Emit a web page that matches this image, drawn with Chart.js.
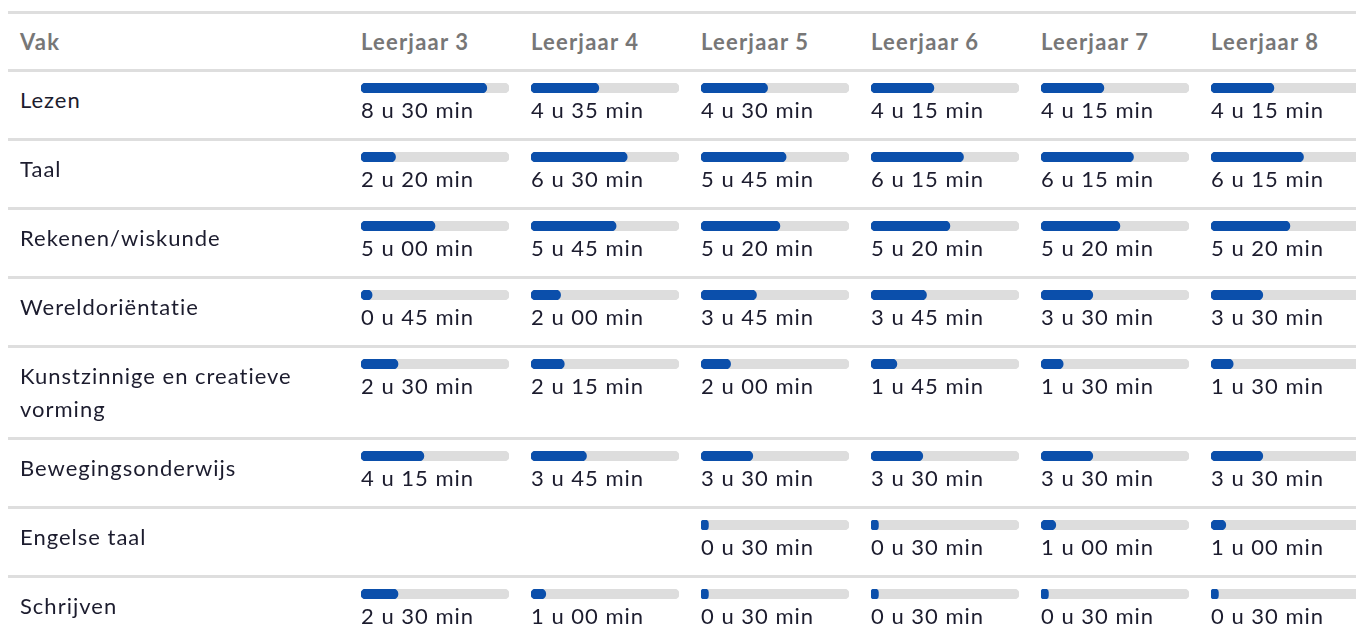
<!DOCTYPE html>
<html lang="nl">
<head>
<meta charset="utf-8">
<script src="https://cdn.jsdelivr.net/npm/chart.js@4/dist/chart.umd.min.js"></script>
<style>
    html, body { margin: 0; padding: 0; background: #fff; overflow: hidden; width: 1356px; height: 628px; }
    body { font-family: "Lato", sans-serif; color: #1c1c2e; }
    .tbl { position: absolute; left: 8px; top: 11px; width: 1400px; }
    .row { display: flex; border-top: 3px solid #dedede; }
    .head { height: 55px; line-height: 55px; font-weight: 700; color: #777; font-size: 22px; letter-spacing: 1.2px; }
    .lbl { width: 300px; padding: 11px 41px 12px 12px; font-size: 22px; line-height: 33px; letter-spacing: 1px; }
    .head .lbl { padding-top: 0; padding-bottom: 0; line-height: 55px; letter-spacing: 1.2px; }
    .cell { width: 170px; padding-top: 11px; padding-bottom: 12px; }
    .cell canvas { display: block; }
    .val { font-size: 22px; line-height: 33px; white-space: nowrap; letter-spacing: 1px; }
</style>
</head>
<body>
<div class="tbl" id="tbl"></div>
<script>
var leerjaren = ['Leerjaar 3', 'Leerjaar 4', 'Leerjaar 5', 'Leerjaar 6', 'Leerjaar 7', 'Leerjaar 8'];
var vakken = ['Lezen', 'Taal', 'Rekenen/wiskunde', 'Wereldoriëntatie', 'Kunstzinnige en creatieve vorming',
    'Bewegingsonderwijs', 'Engelse taal', 'Schrijven'];

// minuten per week, per leerjaar 3..8
var lezen = [510, 275, 270, 255, 255, 255];
var taal = [140, 390, 345, 375, 375, 375];
var rekenen = [300, 345, 320, 320, 320, 320];
var wereldorientatie = [45, 120, 225, 225, 210, 210];
var kunstzinnig = [150, 135, 120, 105, 90, 90];
var bewegingsonderwijs = [255, 225, 210, 210, 210, 210];
var engels = [null, null, 30, 30, 60, 60];
var schrijven = [150, 60, 30, 30, 30, 30];

var minuten = [lezen, taal, rekenen, wereldorientatie, kunstzinnig, bewegingsonderwijs, engels, schrijven];
var schaalMax = 600;

function formatTijd(m) {
    var u = Math.floor(m / 60);
    var min = m % 60;
    return u + ' u ' + (min < 10 ? '0' + min : min) + ' min';
}

var tbl = document.getElementById('tbl');

// header
var head = document.createElement('div');
head.className = 'row head';
head.innerHTML = '<div class="lbl">Vak</div>' + leerjaren.map(function (l) {
    return '<div class="cell" style="padding:0">' + l + '</div>';
}).join('');
tbl.appendChild(head);

vakken.forEach(function (vak, r) {
    var row = document.createElement('div');
    row.className = 'row';
    var lbl = document.createElement('div');
    lbl.className = 'lbl';
    lbl.textContent = vak;
    row.appendChild(lbl);

    minuten[r].forEach(function (m) {
        var cell = document.createElement('div');
        cell.className = 'cell';
        row.appendChild(cell);
        if (m === null) return;

        var canvas = document.createElement('canvas');
        canvas.width = 148;
        canvas.height = 10;
        cell.appendChild(canvas);
        var txt = document.createElement('div');
        txt.className = 'val';
        txt.textContent = formatTijd(m);
        cell.appendChild(txt);

        new Chart(canvas.getContext('2d'), {
            type: 'bar',
            data: {
                labels: [''],
                datasets: [{
                    data: [m],
                    backgroundColor: '#0b4fab',
                    grouped: false,
                    borderRadius: 5,
                    borderSkipped: false,
                    barThickness: 10
                }, {
                    data: [schaalMax],
                    backgroundColor: '#dddddd',
                    grouped: false,
                    borderRadius: 5,
                    borderSkipped: false,
                    barThickness: 10
                }]
            },
            options: {
                indexAxis: 'y',
                responsive: false,
                animation: false,
                layout: { padding: 0 },
                plugins: { legend: { display: false }, tooltip: { enabled: false } },
                scales: {
                    x: { display: false, min: 0, max: schaalMax },
                    y: { display: false }
                }
            }
        });
    });
    tbl.appendChild(row);
});
</script>
</body>
</html>
